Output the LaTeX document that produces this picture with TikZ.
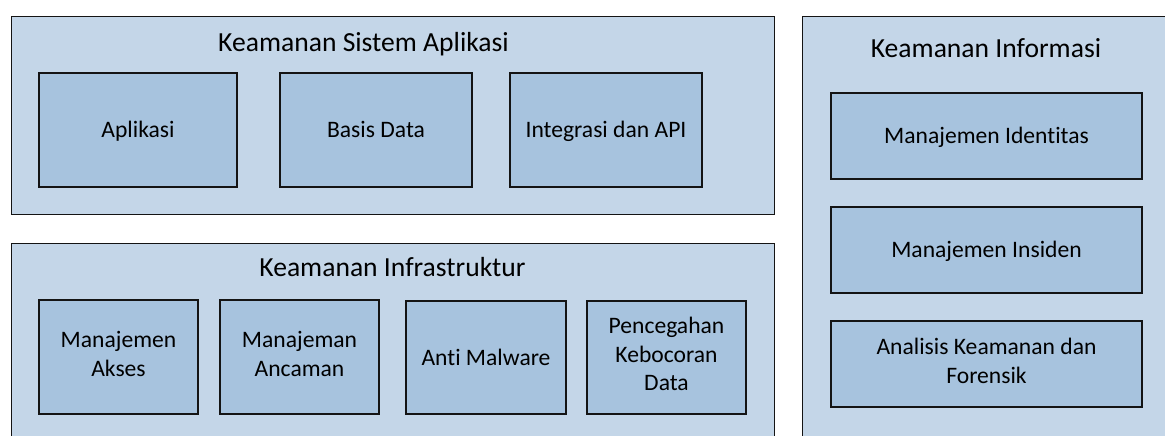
\documentclass[tikz,border=0pt]{standalone}
\usepackage{fontspec}
\setmainfont{Carlito}[Ligatures=NoCommon]
\definecolor{groupfill}{RGB}{196,214,232}
\definecolor{itemfill}{RGB}{167,195,222}
\definecolor{edge}{RGB}{20,20,20}
% fixed line height so labels with and without descenders sit alike
\newcommand{\topstrut}{\rule{0pt}{22pt}}
\newcommand{\botstrut}{\rule[-6.8pt]{0pt}{6.8pt}}
\tikzset{
  group/.style={draw=edge, fill=groupfill, line width=1.4pt, rectangle, anchor=north west, inner sep=0pt},
  item/.style={draw=edge, fill=itemfill, line width=1.8pt, rectangle, align=center, inner sep=0pt,
    font=\fontsize{23.6}{28.6}\selectfont,
    execute at begin node={\topstrut}, execute at end node={\botstrut}},
  grouptitle/.style={anchor=base, inner sep=0pt, font=\fontsize{27.6}{33}\selectfont},
}
\begin{document}
\begin{tikzpicture}[x=1pt, y=-1pt]
\useasboundingbox (0,0) rectangle (1165,436);
\clip (0,0) rectangle (1165,436);
\fill[white] (0,0) rectangle (1165,436);

% three group panels
\node[group, minimum width=763pt, minimum height=198pt] (app) at (11,16) {};
\node[group, minimum width=763pt, minimum height=220pt] (infra) at (11,243) {};
\node[group, minimum width=400pt, minimum height=440pt] (info) at (802,16) {};

% panel titles
\node[grouptitle] (appT) at (363.5,52) {Keamanan Sistem Aplikasi};
\node[grouptitle] (infraT) at (392.5,276) {Keamanan Infrastruktur};
\node[grouptitle] (infoT) at (986,58) {Keamanan Informasi};

% application security
\node[item, minimum width=198pt, minimum height=114pt] (apl) at (138,130) {Aplikasi};
\node[item, minimum width=192pt, minimum height=114pt] (db) at (376,130) {Basis Data};
\node[item, minimum width=192pt, minimum height=114pt] (api) at (606,130) {Integrasi dan API};

% infrastructure security
\node[item, minimum width=159pt, minimum height=114pt] (akses) at (118.5,357) {Manajemen\\Akses};
\node[item, minimum width=159pt, minimum height=114pt] (ancam) at (299.5,357) {Manajeman\\Ancaman};
\node[item, minimum width=160pt, minimum height=113pt] (malw) at (486,357.5) {Anti Malware};
\node[item, minimum width=159pt, minimum height=113pt] (dlp) at (666.5,357.5) {Pencegahan\\Kebocoran\\Data};

% information security
\node[item, minimum width=311pt, minimum height=86pt] (idm) at (986.5,136) {Manajemen Identitas};
\node[item, minimum width=311pt, minimum height=86pt] (inc) at (986.5,250) {Manajemen Insiden};
\node[item, minimum width=311pt, minimum height=86pt] (fore) at (986.5,364) {Analisis Keamanan dan\\Forensik};
\end{tikzpicture}
\end{document}
